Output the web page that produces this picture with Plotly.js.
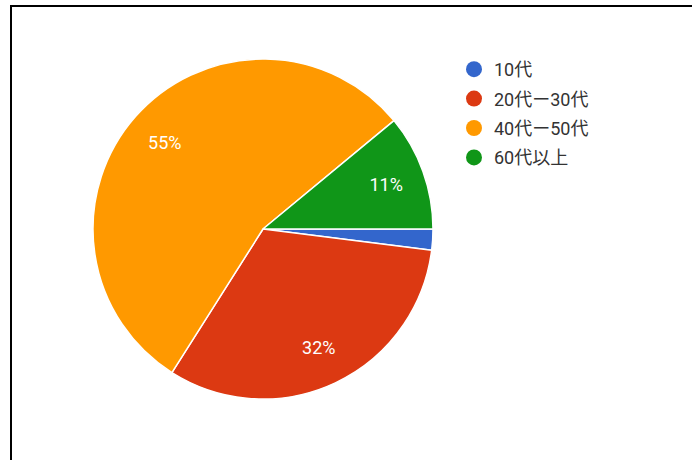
<!DOCTYPE html>
<html>
<head>
<meta charset="utf-8">
<script src="https://cdn.plot.ly/plotly-3.0.1.min.js"></script>
<style>
html,body{margin:0;padding:0;background:#fff;}
#chart{width:692px;height:460px;}
</style>
</head>
<body>
<div id="chart"></div>
<script>
const categories = ['10代', '20代ー30代', '40代ー50代', '60代以上'];
const values = [2, 32, 55, 11];
const colors = ['#3366CC', '#DC3912', '#FF9900', '#109618'];
const labelTemplates = ['', '%{percent}', '%{percent}', '%{percent}'];

const W = 692, H = 460;
const fontFamily = "Roboto, 'Noto Sans CJK JP', sans-serif";
const pieDomain = {x: [93 / W, 433 / W], y: [1 - 399 / H, 1 - 59 / H]};

const pieTrace = {
  type: 'pie',
  labels: categories,
  values: values,
  sort: false,
  direction: 'clockwise',
  rotation: 90,
  marker: {colors: colors, line: {color: '#ffffff', width: 1.5}},
  textinfo: 'none',
  hoverinfo: 'label+percent',
  showlegend: false,
  domain: pieDomain
};

// transparent ring used only to place the percent labels out toward the rim
const labelTrace = {
  type: 'pie',
  labels: categories,
  values: values,
  sort: false,
  direction: 'clockwise',
  rotation: 90,
  hole: 0.54,
  marker: {colors: categories.map(() => 'rgba(0,0,0,0)'), line: {width: 0}},
  texttemplate: labelTemplates,
  textposition: 'inside',
  insidetextorientation: 'horizontal',
  textfont: {family: fontFamily, size: 18, color: '#ffffff'},
  hoverinfo: 'skip',
  showlegend: false,
  domain: pieDomain
};

const legendTraces = categories.map((c, i) => ({
  type: 'scatter',
  mode: 'markers',
  x: [null],
  y: [null],
  name: c,
  legendgroup: 'g' + i,
  marker: {symbol: 'circle', size: 18, color: colors[i]},
  showlegend: true,
  hoverinfo: 'skip'
}));

const layout = {
  width: W,
  height: H,
  autosize: false,
  margin: {l: 0, r: 0, t: 0, b: 0, pad: 0},
  paper_bgcolor: '#ffffff',
  plot_bgcolor: '#ffffff',
  font: {family: fontFamily, size: 18, color: '#333333'},
  xaxis: {visible: false},
  yaxis: {visible: false},
  showlegend: true,
  legend: {
    x: 454 / W,
    y: 1 - 51 / H,
    xanchor: 'left',
    yanchor: 'top',
    bgcolor: 'rgba(0,0,0,0)',
    borderwidth: 0,
    traceorder: 'grouped',
    tracegroupgap: 3,
    font: {family: fontFamily, size: 18, color: '#333333'},
    itemclick: false,
    itemdoubleclick: false
  },
  shapes: [{
    type: 'path',
    xref: 'paper',
    yref: 'paper',
    path: 'M ' + (11 / W) + ',0 L ' + (11 / W) + ',' + (1 - 6 / H) + ' L 1,' + (1 - 6 / H),
    line: {color: '#000000', width: 2}
  }]
};

Plotly.newPlot('chart', [pieTrace, labelTrace].concat(legendTraces), layout, {displayModeBar: false, staticPlot: true});
</script>
</body>
</html>
